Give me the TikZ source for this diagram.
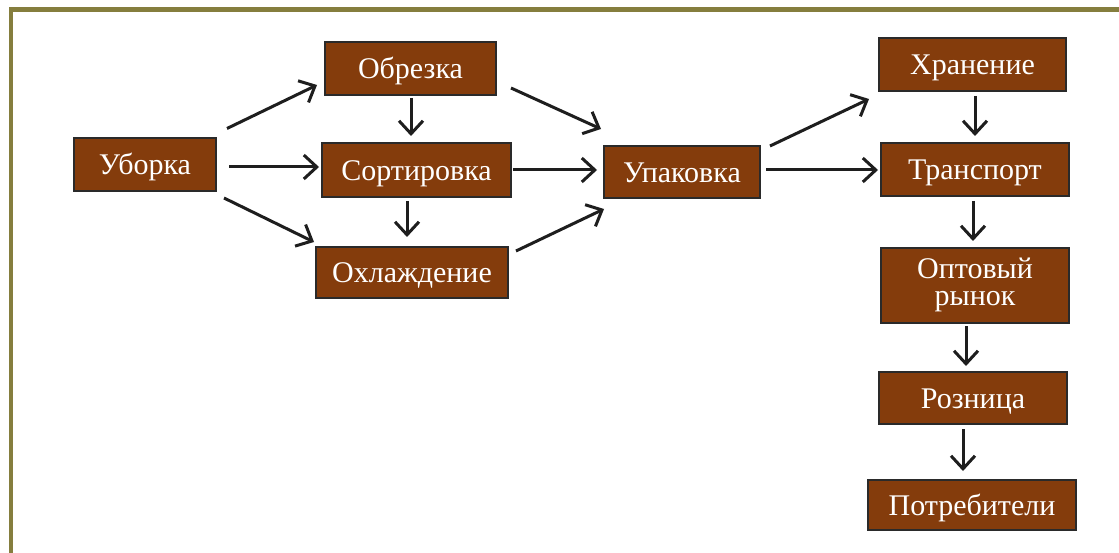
\documentclass[tikz,border=0pt]{standalone}
\usepackage{fontspec}
\setmainfont{Liberation Serif}
\usetikzlibrary{arrows.meta,calc}
\definecolor{boxfill}{HTML}{843C0C}
\definecolor{boxline}{HTML}{2A2A2A}
\definecolor{framecol}{HTML}{857E3E}
\definecolor{arrowcol}{HTML}{1E1E1E}
\tikzset{
  stage/.style={draw=boxline, line width=2pt, fill=boxfill, text=white,
    inner sep=0pt, minimum height=53pt,
    font=\fontsize{30}{27}\selectfont, align=center},
  oneline/.style={stage, text height=27pt, text depth=6pt},
  flow/.style={draw=arrowcol, line width=3pt,
    -{Straight Barb[length=13pt,width=24pt]}},
}
\begin{document}
\begin{tikzpicture}[x=1pt,y=-1pt]
  \useasboundingbox (0,0) rectangle (1119,553);
  \fill[white] (0,0) rectangle (1119,553);
  % page frame
  \draw[framecol, line width=4.5pt] (11,553) -- (11,9.5) -- (1119,9.5);

  % stages
  \node[oneline, minimum width=142pt] (ubo) at (145,164.5) {Уборка};
  \node[oneline, minimum width=171pt] (obr) at (410.5,68.5) {Обрезка};
  \node[oneline, minimum width=189pt, minimum height=54pt] (sort) at (416.5,170) {Сортировка};
  \node[oneline, minimum width=192pt, minimum height=51pt] (ohl) at (412,272.5) {Охлаждение};
  \node[oneline, minimum width=156pt, minimum height=52pt] (upa) at (682,172) {Упаковка};
  \node[oneline, minimum width=187pt] (hra) at (972.5,64.5) {Хранение};
  \node[oneline, minimum width=188pt] (tra) at (975,169.5) {Транспорт};
  \node[stage, minimum width=188pt, minimum height=75pt] (opt) at (975,285.5) {\raisebox{4.5pt}{\begin{tabular}{@{}c@{}}Оптовый\\рынок\end{tabular}}};
  \node[oneline, minimum width=188pt, minimum height=52pt] (roz) at (973,398) {Розница};
  \node[oneline, minimum width=208pt, minimum height=50pt] (pot) at (972,505) {Потребители};

  % flows from harvesting
  \draw[flow] ($(ubo.north east)+(10,-8.5)$) -- ($(obr.south west)+(-7,-11)$);
  \draw[flow] ($(ubo.east)+(12,2.5)$) -- ($(sort.west)+(-2,-3)$);
  \draw[flow] ($(ubo.south east)+(7,6)$) -- ($(ohl.north west)+(-1,-4)$);
  % middle column
  \draw[flow] ($(obr.south)+(0.5,2)$) -- ($(sort.north)+(-5.5,-6)$);
  \draw[flow] ($(sort.south)+(-9.5,3)$) -- ($(ohl.north)+(-5,-9)$);
  % into packing
  \draw[flow] ($(obr.south east)+(14,-8)$) -- ($(upa.north west)+(-2,-16)$);
  \draw[flow] (sort.east) ++(1,0) -- ($(upa.west)+(-6,-2)$);
  \draw[flow] ($(ohl.north east)+(7,5)$) -- ($(upa.south west)+(1,10)$);
  % out of packing
  \draw[flow] ($(upa.north east)+(9,1)$) -- ($(hra.south west)+(-9,7)$);
  \draw[flow] ($(upa.east)+(5,-2)$) -- ($(tra.west)+(-2,0.5)$);
  % distribution chain
  \draw[flow] ($(hra.south)+(2.5,4)$) -- ($(tra.north)+(0,-6)$);
  \draw[flow] ($(tra.south)+(-2,4)$) -- ($(opt.north)+(-2,-6)$);
  \draw[flow] ($(opt.south)+(-9,2)$) -- ($(roz.north)+(-7,-5)$);
  \draw[flow] ($(roz.south)+(-10,4)$) -- ($(pot.north)+(-9,-8)$);
\end{tikzpicture}
\end{document}
